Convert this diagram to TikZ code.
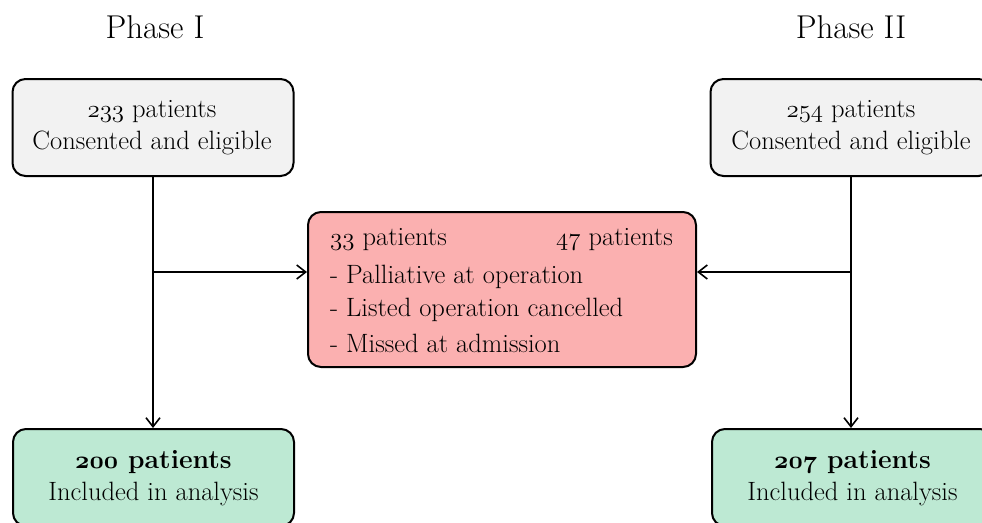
\documentclass[tikz,border=0pt]{standalone}
\usepackage{fontspec}
\setmainfont{Latin Modern Roman}
\usetikzlibrary{arrows.meta}
% old-style figures, regular and bold
\newcommand\osnum[1]{{\usefont{OML}{cmm}{m}{it}#1}}
\newcommand\osnumb[1]{{\usefont{OML}{cmm}{b}{it}#1}}
\definecolor{endgreen}{HTML}{BDE9D3}
\definecolor{midpink}{HTML}{FBB0B0}
\definecolor{startgray}{HTML}{F2F2F2}
\begin{document}
\begin{tikzpicture}[x=1pt,y=-1pt,
  box/.style={draw=black,line width=2pt,rounded corners=13pt,inner sep=0pt},
  startbox/.style={box,fill=startgray,minimum width=281pt,minimum height=97pt},
  endbox/.style={box,fill=endgreen,minimum width=281pt,minimum height=97pt},
  midbox/.style={box,fill=midpink,minimum width=388pt,minimum height=155pt},
  txt/.style={font=\fontsize{26.5}{32}\selectfont,align=center,inner sep=0pt},
  head/.style={font=\fontsize{33}{38}\selectfont,inner sep=0pt},
  flow/.style={line width=1.6pt,-{Straight Barb[length=9pt,width=14pt,line width=1.6pt]}}]
\useasboundingbox (0,0) rectangle (982,522);

% phase headings
\node[head] (h1) at (155,27) {Phase I};
\node[head] (h2) at (851,27) {Phase II};

% boxes
\node[startbox] (p1) at (153,127.5) {};
\node[startbox] (p2) at (851,127.5) {};
\node[midbox] (m) at (502,289.5) {};
\node[endbox] (b1) at (153.5,477.5) {};
\node[endbox] (b2) at (852.5,477.5) {};

% box texts
\node[txt] (p1t) at (152,128) {\osnum{233} patients\\Consented and eligible};
\node[txt] (p2t) at (851,128) {\osnum{254} patients\\Consented and eligible};
\node[txt] (b1t) at (153.5,478) {\textbf{\osnumb{200} patients}\\Included in analysis};
\node[txt] (b2t) at (852.5,478) {\textbf{\osnumb{207} patients}\\Included in analysis};
\node[txt,anchor=west] (ma) at (330,240) {\osnum{33} patients};
\node[txt,anchor=east] (mb) at (673,240) {\osnum{47} patients};
\node[txt,anchor=west] (m1) at (330,277) {- Palliative at operation};
\node[txt,anchor=west] (m2) at (330,310) {- Listed operation cancelled};
\node[txt,anchor=west] (m3) at (330,343) {- Missed at admission};

% connectors
\coordinate (j1) at (153,272);
\coordinate (j2) at (851,272);
\draw[flow] (p1.south) -- (b1.north -| p1.south);
\draw[flow] (p2.south) -- (b2.north -| p2.south);
\draw[flow] (j1) -- (m.west |- j1);
\draw[flow] (j2) -- (m.east |- j2);
\end{tikzpicture}
\end{document}
